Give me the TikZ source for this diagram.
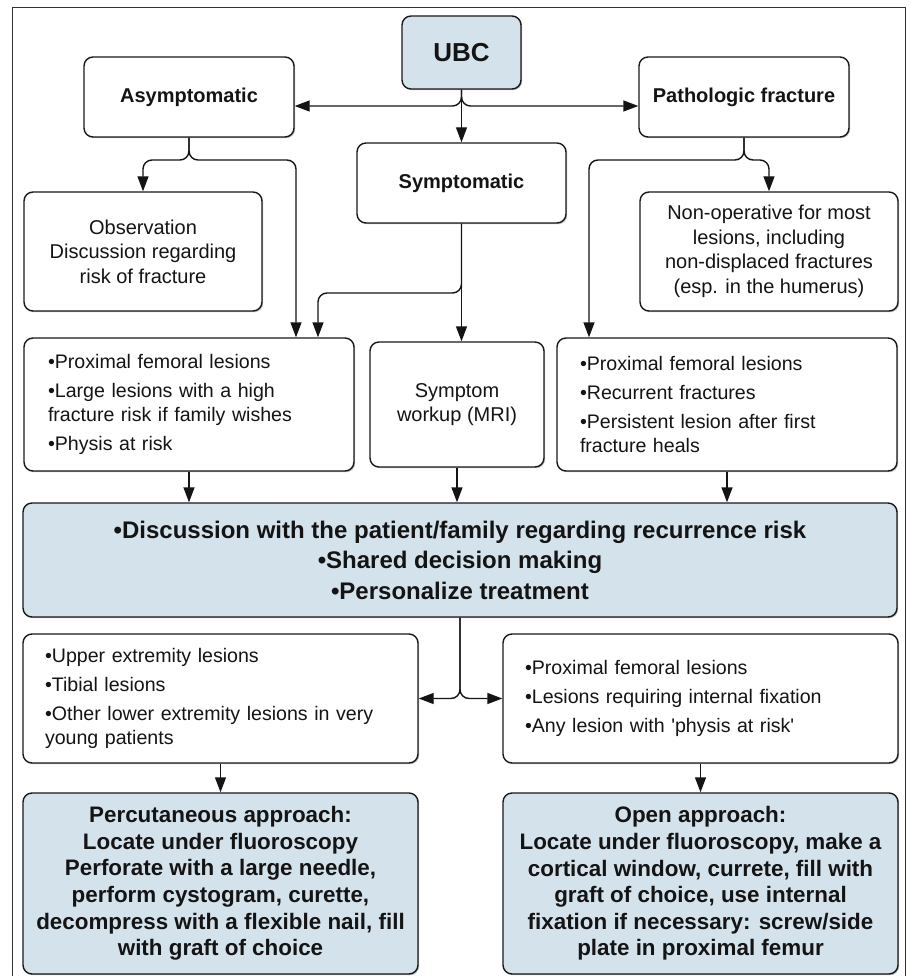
\documentclass[tikz,border=0pt]{standalone}
\usepackage{fontspec}
\setmainfont{Liberation Sans}[Ligatures=TeXOff]
\usetikzlibrary{arrows.meta,shadows}
\definecolor{ubcblue}{RGB}{212,226,235}
\begin{document}
\begin{tikzpicture}[x=1pt,y=-1pt,
  box/.style={draw=black!90, line width=1.4pt, rounded corners=9pt, fill=white, inner sep=0pt,
    align=center, text=black!92, font=\fontsize{20}{24.5}\selectfont,
    drop shadow={shadow xshift=1.2pt, shadow yshift=-1.2pt, opacity=0.25, fill=black}},
  bluebox/.style={box, fill=ubcblue},
  listbox/.style={box, align=left, font=\fontsize{19.6}{24.5}\selectfont},
  arr/.style={line width=1.4pt, draw=black!92, -{Triangle[length=15pt,width=11pt]}, rounded corners=9pt},
]
\useasboundingbox (0,0) rectangle (910,976);
% outer frame
\draw[line width=0.9pt, black!80] (12,980) -- (12,7) -- (905,7) -- (905,980);

% nodes
\node[bluebox, minimum width=119pt, minimum height=73pt, font=\fontsize{26}{30}\selectfont\bfseries] (ubc) at (461.5,52.5) {UBC};
\node[box, minimum width=210pt, minimum height=80pt, font=\fontsize{20}{24}\selectfont\bfseries] (asym) at (189,97) {Asymptomatic};
\node[box, minimum width=210pt, minimum height=80pt, font=\fontsize{20}{24}\selectfont\bfseries] (path) at (744,97) {Pathologic fracture};
\node[box, minimum width=209pt, minimum height=80pt, font=\fontsize{20}{24}\selectfont\bfseries] (symp) at (461.5,183) {Symptomatic};
\node[box, minimum width=238pt, minimum height=119pt] (obs) at (143,251.5) {Observation\\Discussion regarding\\risk of fracture};
\node[box, minimum width=258pt, minimum height=119pt] (nonop) at (769,251.5) {Non-operative for most\\lesions, including\\non-displaced fractures\\(esp. in the humerus)};

\node[listbox, minimum width=330pt, minimum height=133pt, text width=282pt] (llA) at (189,404.5)
  {•Proximal femoral lesions\\[4.5pt]•Large lesions with a high\\fracture risk if family wishes\\[4.5pt]•Physis at risk};
\node[box, minimum width=174pt, minimum height=125pt] (work) at (457,404.5) {Symptom\\workup (MRI)};
\node[listbox, minimum width=340pt, minimum height=133pt, text width=294pt] (rlA) at (727,404.5)
  {•Proximal femoral lesions\\[4.5pt]•Recurrent fractures\\[4.5pt]•Persistent lesion after first\\fracture heals};

\node[bluebox, minimum width=874pt, minimum height=114pt, font=\fontsize{24}{30.5}\selectfont\bfseries] (disc) at (460,560)
  {•Discussion with the patient/family regarding recurrence risk\\•Shared decision making\\•Personalize treatment};

\node[listbox, minimum width=395pt, minimum height=129pt, text width=351pt] (lowL) at (220.5,698.5)
  {•Upper extremity lesions\\[4.5pt]•Tibial lesions\\[4.5pt]•Other lower extremity lesions in very\\young patients};
\node[listbox, minimum width=395pt, minimum height=129pt, text width=351pt] (lowR) at (700.5,698.5)
  {•Proximal femoral lesions\\[4.5pt]•Lesions requiring internal fixation\\[4.5pt]•Any lesion with 'physis at risk'};

\node[bluebox, minimum width=395pt, minimum height=181pt, font=\fontsize{22.4}{26.6}\selectfont\bfseries] (perc) at (220.5,883.5)
  {Percutaneous approach:\\Locate under fluoroscopy\\Perforate with a large needle,\\perform cystogram, curette,\\decompress with a flexible nail, fill\\with graft of choice};
\node[bluebox, minimum width=395pt, minimum height=181pt, font=\fontsize{22.4}{26.6}\selectfont\bfseries] (open) at (700.5,883.5)
  {Open approach:\\Locate under fluoroscopy, make a\\cortical window, currete, fill with\\graft of choice, use internal\\fixation if necessary: screw/side\\plate in proximal femur};

% junction coordinates
\coordinate (j0) at (461.5,106);
\coordinate (j1) at (189,160);
\coordinate (ax) at (296,0);
\coordinate (j2) at (461.5,293);
\coordinate (bx) at (318,0);
\coordinate (j3) at (744,160);
\coordinate (cx) at (589,0);
\coordinate (j4) at (460,698.5);

% connectors
\draw[arr] (ubc.south) -- (symp.north);
\draw[arr] (ubc.south) |- (asym.east |- j0);
\draw[arr] (ubc.south) |- (path.west |- j0);

\draw[arr] (asym.south) |- (j1) -| (obs.north);
\draw[arr] (asym.south) |- (j1) -| (llA.north -| ax);

\draw[arr] (symp.south) -- (symp.south |- work.north);
\draw[arr] (symp.south) |- (j2) -| (llA.north -| bx);

\draw[arr] (path.south) |- (j3) -| (nonop.north);
\draw[arr] (path.south) |- (j3) -| (rlA.north -| cx);

\draw[arr] (llA.south) -- (llA.south |- disc.north);
\draw[arr] (work.south) -- (work.south |- disc.north);
\draw[arr] (rlA.south) -- (rlA.south |- disc.north);

\draw[arr] (disc.south) |- (lowL.east);
\draw[arr] (disc.south) |- (lowR.west);

\draw[arr] (lowL.south) -- (perc.north);
\draw[arr] (lowR.south) -- (open.north);
\end{tikzpicture}
\end{document}
